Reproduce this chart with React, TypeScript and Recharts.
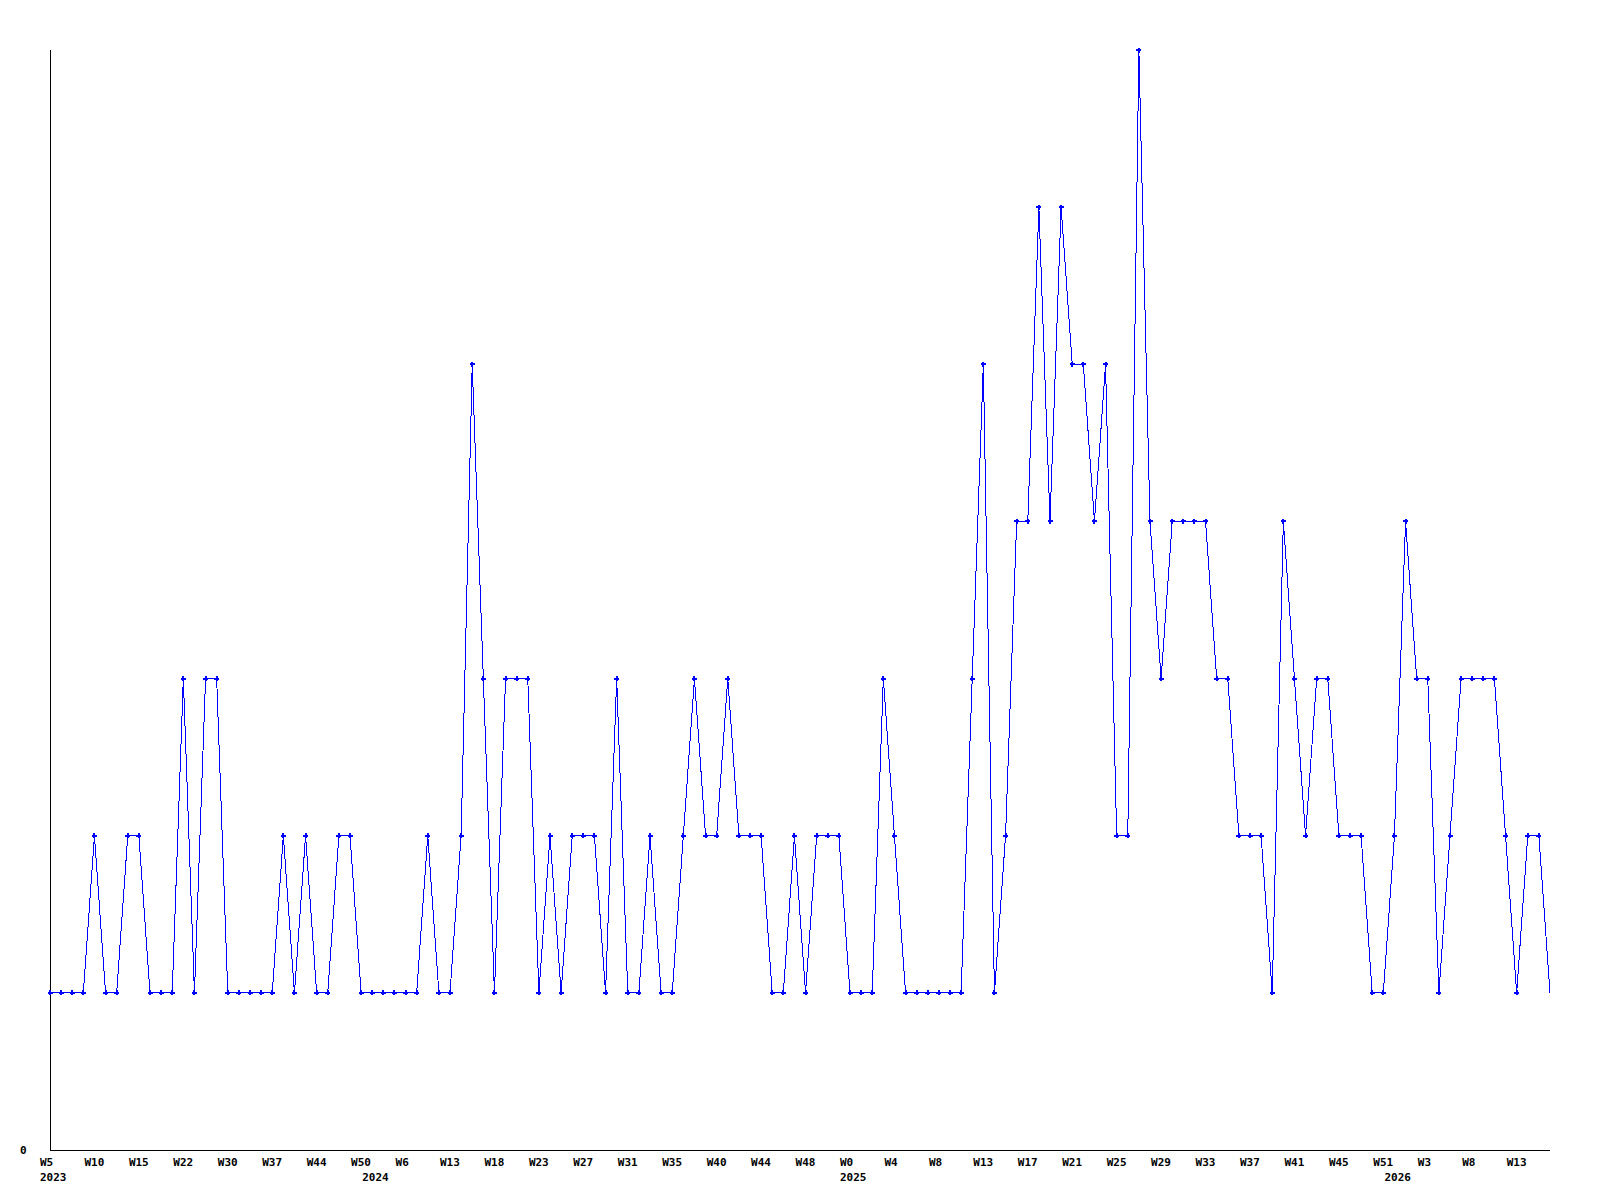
import React from "react";
import { LineChart, Line, XAxis, YAxis } from "recharts";

const values: number[] = [
  1, 1, 1, 1, 2, 1, 1, 2, 2, 1,
  1, 1, 3, 1, 3, 3, 1, 1, 1, 1,
  1, 2, 1, 2, 1, 1, 2, 2, 1, 1,
  1, 1, 1, 1, 2, 1, 1, 2, 5, 3,
  1, 3, 3, 3, 1, 2, 1, 2, 2, 2,
  1, 3, 1, 1, 2, 1, 1, 2, 3, 2,
  2, 3, 2, 2, 2, 1, 1, 2, 1, 2,
  2, 2, 1, 1, 1, 3, 2, 1, 1, 1,
  1, 1, 1, 3, 5, 1, 2, 4, 4, 6,
  4, 6, 5, 5, 4, 5, 2, 2, 7, 4,
  3, 4, 4, 4, 4, 3, 3, 2, 2, 2,
  1, 4, 3, 2, 3, 3, 2, 2, 2, 1,
  1, 2, 4, 3, 3, 1, 2, 3, 3, 3,
  3, 2, 1, 2, 2, 1,
];

const weekTickLabels: string[] = [
  "W5", "W10", "W15", "W22", "W30", "W37", "W44", "W50",
  "W6", "W13", "W18", "W23", "W27", "W31", "W35", "W40", "W44", "W48",
  "W0", "W4", "W8", "W13", "W17", "W21", "W25", "W29", "W33", "W37", "W41", "W45", "W51",
  "W3", "W8", "W13",
];
const weekTickEvery = 4;

const yearLabels: string[] = ["2023", "2024", "2025", "2026"];
const yearIndex: number[] = [0, 29, 72, 121];

const data = values.map((v, i) => ({ i, v }));
const weekTicks = weekTickLabels.map((_, k) => k * weekTickEvery);
const allTicks = Array.from(new Set([...weekTicks, ...yearIndex])).sort((a, b) => a - b);

const FONT = "'DejaVu Sans Mono', monospace";

const XTick = (props: any) => {
  const { x, y, payload } = props;
  const idx = payload.value as number;
  const wk = idx % weekTickEvery === 0 ? weekTickLabels[idx / weekTickEvery] : undefined;
  const yi = yearIndex.indexOf(idx);
  return (
    <g>
      {wk !== undefined && (
        <text x={x - 10} y={y + 16} textAnchor="start" fontFamily={FONT} fontWeight="bold" fontSize={11} fill="#000">
          {wk}
        </text>
      )}
      {yi >= 0 && (
        <text x={x - 10} y={y + 31} textAnchor="start" fontFamily={FONT} fontWeight="bold" fontSize={11} fill="#000">
          {yearLabels[yi]}
        </text>
      )}
    </g>
  );
};

const YTick = (props: any) => {
  const { y, payload } = props;
  return (
    <text x={20} y={y + 4} textAnchor="start" fontFamily={FONT} fontWeight="bold" fontSize={11} fill="#000">
      {String(payload.value)}
    </text>
  );
};

const Dot = (props: any) => {
  const { cx, cy, index } = props;
  if (index === values.length - 1 || cx == null || cy == null) return <g key={`d${index}`} />;
  return (
    <g key={`d${index}`} shapeRendering="crispEdges">
      <rect x={cx - 2.5} y={cy - 1} width={5} height={2} fill="#0000ff" />
      <rect x={cx - 1} y={cy - 2.5} width={2} height={5} fill="#0000ff" />
    </g>
  );
};

export default function App() {
  return (
    <div style={{ position: "absolute", left: 0, top: 0, width: 1600, height: 1200, background: "#fff" }}>
      <LineChart width={1600} height={1200} data={data} margin={{ top: 50, right: 50, bottom: 0, left: 0 }}>
        <XAxis
          dataKey="i"
          type="number"
          domain={[0, values.length - 1]}
          ticks={allTicks}
          interval={0}
          tick={<XTick />}
          tickLine={false}
          tickSize={0}
          tickMargin={0}
          height={50}
          axisLine={{ stroke: "#000", strokeWidth: 1, shapeRendering: "crispEdges" }}
        />
        <YAxis
          type="number"
          domain={[0, 7]}
          ticks={[0]}
          width={50}
          tick={<YTick />}
          tickLine={false}
          axisLine={{ stroke: "#000", strokeWidth: 1, shapeRendering: "crispEdges" }}
        />
        <Line
          type="linear"
          dataKey="v"
          stroke="#0000ff"
          strokeWidth={1}
          shapeRendering="crispEdges"
          dot={<Dot />}
          activeDot={false}
          isAnimationActive={false}
        />
      </LineChart>
    </div>
  );
}
